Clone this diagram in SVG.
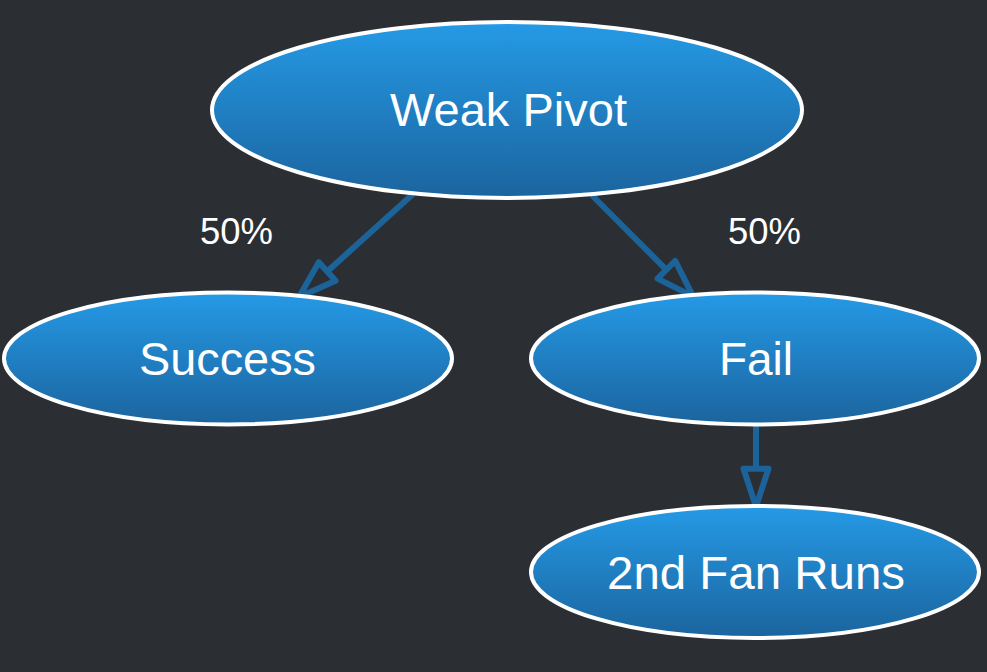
<svg xmlns="http://www.w3.org/2000/svg" width="987" height="672" viewBox="0 0 987 672">
  <defs>
    <linearGradient id="g" x1="0" y1="0" x2="0" y2="1">
      <stop offset="0" stop-color="#259ae6"/>
      <stop offset="1" stop-color="#1b649e"/>
    </linearGradient>
    <marker id="arr" markerUnits="userSpaceOnUse" viewBox="0 0 46 30" markerWidth="46" markerHeight="30" refX="3" refY="15" orient="auto" overflow="visible">
      <path d="M3,2.5 L41,15 L3,27.5 Z" fill="#2b2e33" stroke="#1b6399" stroke-width="6" stroke-linejoin="round"/>
    </marker>
    <style>
      .node ellipse { fill: url(#g); stroke: #ffffff; stroke-width: 4; }
      .node text { fill: #ffffff; font-family: "Liberation Sans", Arial, sans-serif; font-size: 46px; text-anchor: middle; }
      .edge { stroke: #1b6399; stroke-width: 6; fill: none; marker-end: url(#arr); }
      .lbl { fill: #ffffff; font-family: "Liberation Sans", Arial, sans-serif; font-size: 36px; text-anchor: middle; }
    </style>
  </defs>
  <rect width="987" height="672" fill="#2b2e33"/>
  <g id="connectors">
    <path class="edge" d="M413,194 L327.2,271.5"/>
    <path class="edge" d="M591.7,195 L666.4,269.8"/>
    <path class="edge" d="M756,426 L756,468.7"/>
    <text class="lbl" x="236.5" y="244" textLength="73" lengthAdjust="spacingAndGlyphs">50%</text>
    <text class="lbl" x="764.5" y="244" textLength="73" lengthAdjust="spacingAndGlyphs">50%</text>
  </g>
  <g id="weak-pivot" class="node">
    <ellipse cx="507" cy="110" rx="295" ry="88"/>
    <text x="508.5" y="126" textLength="237" lengthAdjust="spacingAndGlyphs">Weak Pivot</text>
  </g>
  <g id="success" class="node">
    <ellipse cx="228" cy="358.5" rx="224" ry="66"/>
    <text x="227.5" y="375" textLength="177" lengthAdjust="spacingAndGlyphs">Success</text>
  </g>
  <g id="fail" class="node">
    <ellipse cx="755" cy="358.5" rx="224" ry="66"/>
    <text x="756" y="375">Fail</text>
  </g>
  <g id="second-fan-runs" class="node">
    <ellipse cx="755" cy="572" rx="224" ry="66"/>
    <text x="756" y="589" textLength="298" lengthAdjust="spacingAndGlyphs">2nd Fan Runs</text>
  </g>
</svg>
